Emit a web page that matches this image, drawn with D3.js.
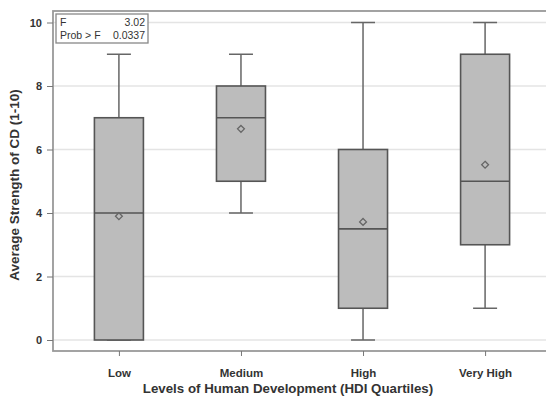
<!DOCTYPE html>
<html><head><meta charset="utf-8">
<script src="https://cdn.jsdelivr.net/npm/d3@7"></script>
<style>body{margin:0;background:#fff}svg{display:block}text{font-family:"Liberation Sans",Arial,sans-serif}</style>
</head><body>
<svg id="c" width="546" height="398"></svg>
<script>
const categories = ["Low", "Medium", "High", "Very High"];
const mins    = [0, 4, 0, 1];
const q1s     = [0, 5, 1, 3];
const medians = [4, 7, 3.5, 5];
const q3s     = [7, 8, 6, 9];
const maxs    = [9, 9, 10, 10];
const means   = [3.9, 6.65, 3.72, 5.52];
const yTicks  = [0, 2, 4, 6, 8, 10];
const statLabels = ["F", "Prob > F"];
const statValues = ["3.02", "0.0337"];

const svg = d3.select("#c");
const L = 53, R = 551, T = 11, B = 351;
const x = d3.scalePoint().domain(categories).range([L, R]).padding(0.54);
const y = d3.scaleLinear().domain([0, 10]).range([340, 22.5]);
const bw = 49, cap = 24;

// gridlines
svg.append("g").selectAll("line").data(yTicks).join("line")
  .attr("x1", L).attr("x2", R).attr("y1", d => y(d)).attr("y2", d => y(d))
  .attr("stroke", "#e4e4e4").attr("stroke-width", 1.5);

// frame
svg.append("rect").attr("x", L).attr("y", T).attr("width", R - L).attr("height", B - T)
  .attr("fill", "none").attr("stroke", "#999").attr("stroke-width", 1.8);

// y axis
const ya = svg.append("g").attr("transform", `translate(${L},0)`)
  .call(d3.axisLeft(y).tickValues(yTicks).tickSize(6).tickPadding(5).tickFormat(d3.format("d")));
ya.select(".domain").remove();
ya.selectAll("line").attr("stroke", "#777");
ya.selectAll("text").attr("font-size", 11).attr("font-weight", "bold").attr("fill", "#333");

// x axis
const xa = svg.append("g").attr("transform", `translate(0,${B})`)
  .call(d3.axisBottom(x).tickSize(5).tickPadding(13));
xa.select(".domain").remove();
xa.selectAll("line").attr("stroke", "#777");
xa.selectAll("text").attr("font-size", 11.5).attr("font-weight", "bold").attr("fill", "#333");

// boxes
const g = svg.append("g");
categories.forEach((c, i) => {
  const cx = x(c);
  const gg = g.append("g");
  gg.append("line").attr("x1", cx).attr("x2", cx).attr("y1", y(q3s[i])).attr("y2", y(maxs[i]))
    .attr("stroke", "#666").attr("stroke-width", 1.5);
  gg.append("line").attr("x1", cx).attr("x2", cx).attr("y1", y(q1s[i])).attr("y2", y(mins[i]))
    .attr("stroke", "#666").attr("stroke-width", 1.5);
  gg.append("line").attr("x1", cx - cap/2).attr("x2", cx + cap/2).attr("y1", y(maxs[i])).attr("y2", y(maxs[i]))
    .attr("stroke", "#666").attr("stroke-width", 1.5);
  gg.append("line").attr("x1", cx - cap/2).attr("x2", cx + cap/2).attr("y1", y(mins[i])).attr("y2", y(mins[i]))
    .attr("stroke", "#666").attr("stroke-width", 1.5);
  gg.append("rect").attr("x", cx - bw/2).attr("y", y(q3s[i])).attr("width", bw)
    .attr("height", y(q1s[i]) - y(q3s[i])).attr("fill", "#bcbcbc")
    .attr("stroke", "#555").attr("stroke-width", 1.6);
  gg.append("line").attr("x1", cx - bw/2).attr("x2", cx + bw/2).attr("y1", y(medians[i])).attr("y2", y(medians[i]))
    .attr("stroke", "#555").attr("stroke-width", 1.6);
  gg.append("path").attr("d", d3.symbol(d3.symbolDiamond2, 30)())
    .attr("transform", `translate(${cx},${y(means[i])})`)
    .attr("fill", "none").attr("stroke", "#666").attr("stroke-width", 1.3);
});

// inset stats
const ins = svg.append("g");
ins.append("rect").attr("x", 56).attr("y", 14).attr("width", 92).attr("height", 29)
  .attr("fill", "#fff").attr("stroke", "#888").attr("stroke-width", 1.3);
statLabels.forEach((s, i) => {
  ins.append("text").attr("x", 60).attr("y", 26 + i * 13).attr("font-size", 10.5).attr("fill", "#333").text(s);
  ins.append("text").attr("x", 145).attr("y", 26 + i * 13).attr("font-size", 10.5).attr("fill", "#333")
    .attr("text-anchor", "end").text(statValues[i]);
});

// titles
svg.append("text").attr("x", 288).attr("y", 393).attr("text-anchor", "middle")
  .attr("font-size", 13.3).attr("font-weight", "bold").attr("fill", "#333")
  .text("Levels of Human Development (HDI Quartiles)");
svg.append("text").attr("transform", "translate(19,185) rotate(-90)").attr("text-anchor", "middle")
  .attr("font-size", 13.5).attr("font-weight", "bold").attr("fill", "#333")
  .text("Average Strength of CD (1-10)");
</script>
</body></html>
